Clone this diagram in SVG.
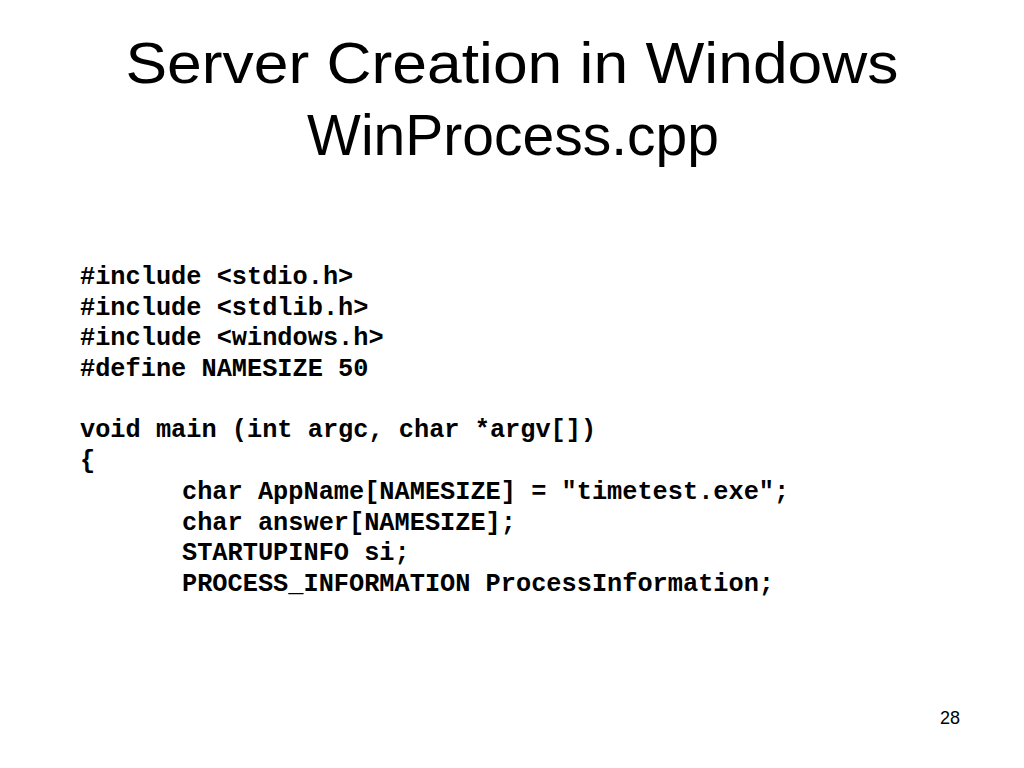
<svg xmlns="http://www.w3.org/2000/svg" width="1024" height="768" viewBox="0 0 1024 768">
<style>
.t{font-family:"Liberation Sans",Arial,sans-serif;fill:#000;text-anchor:middle}
.c{font-family:"Liberation Mono","Courier New",monospace;font-weight:bold;font-size:25.3px;fill:#000;white-space:pre}
.n{font-family:"Liberation Sans",Arial,sans-serif;font-size:18px;fill:#000}
</style>
<rect width="1024" height="768" fill="#fff"/>
<g id="title">
<text class="t" x="512" y="83" font-size="58" textLength="773" lengthAdjust="spacingAndGlyphs">Server Creation in Windows</text>
<text class="t" x="513" y="155" font-size="57">WinProcess.cpp</text>
</g>
<g id="code">
<text class="c" x="80" y="284">#include &lt;stdio.h&gt;</text>
<text class="c" x="80" y="315">#include &lt;stdlib.h&gt;</text>
<text class="c" x="80" y="345">#include &lt;windows.h&gt;</text>
<text class="c" x="80" y="376">#define NAMESIZE 50</text>
<text class="c" x="80" y="437">void main (int argc, char *argv[])</text>
<text class="c" x="80" y="468">{</text>
<text class="c" x="182" y="499">char AppName[NAMESIZE] = "timetest.exe";</text>
<text class="c" x="182" y="530">char answer[NAMESIZE];</text>
<text class="c" x="182" y="560">STARTUPINFO si;</text>
<text class="c" x="182" y="591">PROCESS_INFORMATION ProcessInformation;</text>
</g>
<g id="pagenum">
<text class="n" x="940" y="724">28</text>
</g>
</svg>
